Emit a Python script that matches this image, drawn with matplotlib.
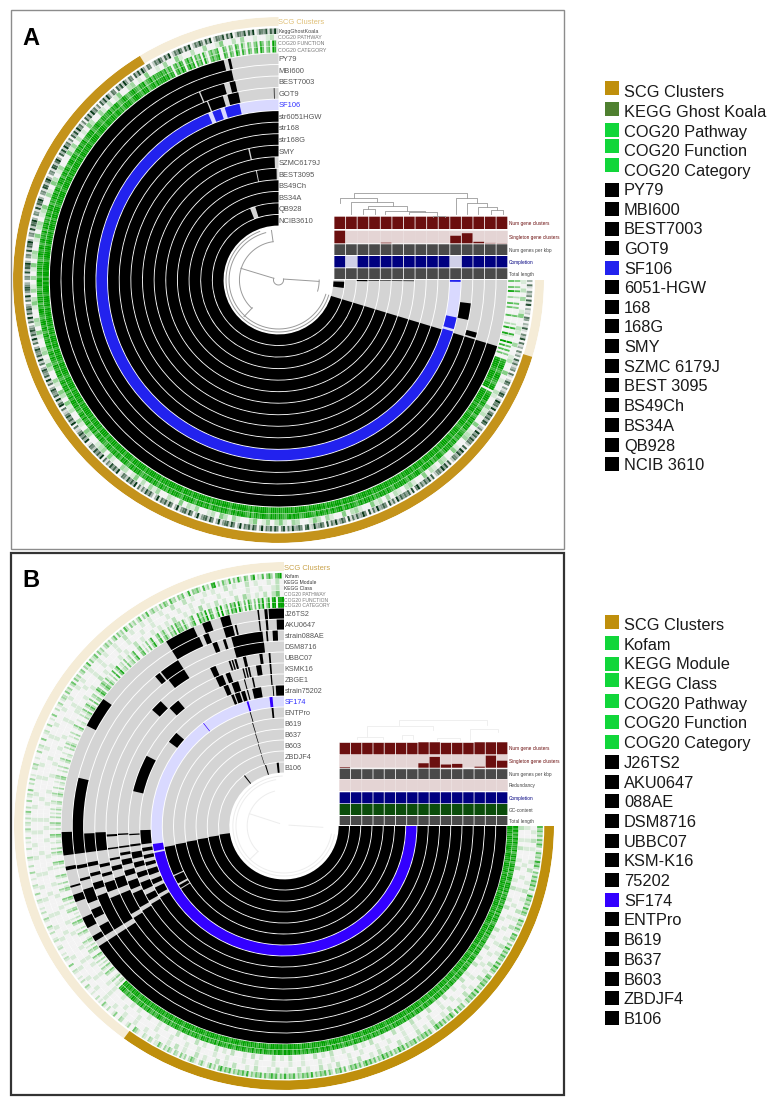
import numpy as np
import matplotlib
matplotlib.use('Agg')
import matplotlib.pyplot as plt
from matplotlib.patches import Rectangle
from matplotlib.colors import to_rgb

plt.rcParams['font.family'] = ['Liberation Sans', 'DejaVu Sans']

# PANEL A - GENOME RINGS, OUTER TO INNER
genomes_a = ['PY79', 'MBI600', 'BEST7003', 'GOT9', 'SF106', 'str6051HGW', 'str168', 'str168G', 'SMY',
             'SZMC6179J', 'BEST3095', 'BS49Ch', 'BS34A', 'QB928', 'NCIB3610']
spans_a = [
    [(107, 346.1), (347.2, 347.9)],
    [(107, 347.5)],
    [(107, 337.2), (337.6, 344.6), (346.2, 347.8), (105, 106.5)],
    [(107, 338.3), (338.7, 343.3), (344.7, 348), (97, 102), (358.6, 358.8)],
    [(102, 105.8), (106.6, 337.3), (338.7, 341.4), (342.8, 347.6), (90, 90.6)],
    [(107, 360)],
    [(107, 360)],
    [(107, 360)],
    [(107, 347.1), (347.7, 360), (90.2, 90.5)],
    [(107, 358.2), (90.2, 90.5)],
    [(107, 348.4), (348.9, 359), (90.2, 90.5)],
    [(107, 360), (90, 90.4)],
    [(107, 360), (90, 90.8)],
    [(107, 338.5), (342.5, 360)],
    [(107, 360), (91.5, 97)],
]
blue_a = 'SF106'

# PANEL A - HEATMAP RINGS, ONE LINE IS 30 DEGREES
ghost_a = ('306104250718031206403171052806130514072613506102750413860295'
           '629158473860251947385620719483562071849365207184736295081746'
           '473916280574392618059437261805742936180574392186057439261850'
           '582746193058274619305827641930582764193058276419305827461930'
           '374825160937482561093748251609374825610937485216093748521609'
           '629174583062917458306291745830629174853062917485306291478530'
           '451827693045182769304518276930541827693045187269304518726930'
           '738294615073829461507382946150738294165073829416507382941650'
           '264851739026485173902648517390265481739026548173902654817392')
pathway_a = ('102030014002100300120040100210' '031200401230014002301204001320' '120302140013204001302410023014'
             '203104200130240210031204012003' '130204102300140321002401300214' '024013002410320014023001420310'
             '301402300140230124003104201300' '041302010420031020140023010400' '103004100200300140020300100120')
function_a = ('400406002005040005000207007100905060400788997689987689907899'
              '979867989679897989678978698798897689978697989867998789679898'
              '896789798978697989798678979869987986978979678998769897986789'
              '798967898798696789897986798978897698798967989896789897968798'
              '689798978679897986798968979878986789798697986987979868798997'
              '978698979867989789678979868979879868979986789978698979867989'
              '868979889678987986897879698978698798968798979867989689798689'
              '979868979789678989678987688778968798567986578976587946795867'
              '786847605738605847063607204635700640530740620530460740350960')
category_a = ('500508003006050006000308008200907060500899998799998799908999'
              '998979899789998998789989799899989799899899979989979899897989'
              '989899899989799899898789989979998989798998989789998979899889'
              '899978999899797899998997899989989799899989979899799989998989'
              '799899989799998997899979989989989979999798998979899998979989'
              '989799989978999899789989979989997989798998998979899978999897'
              '979989999789998997998989799989799899978998999789998997989899'
              '989979989899789999789998799889879978689897689987698957896978'
              '897958706849706958074708305746800750640850730640570850460970')

gene_rows_a = ['Num gene clusters', 'Singleton gene clusters', 'Num genes per kbp', 'Completion', 'Total length']
row_colors_a = ['#6B0F0F', '#6B0F0F', '#4A4A4A', '#000080', '#4A4A4A']
row_bg_a = ['#E8DADA', '#E4D4D4', '#DDDDDD', '#D0D0E8', '#DDDDDD']
num_clusters_a = [1, 1, 1, 1, 1, 1, 1, 1, 1, 1, 1, 1, 1, 1, 1]
singletons_a = [1, 0, 0, 0, 0.05, 0, 0, 0, 0, 0, 0.6, 0.8, 0.12, 0.03, 0.02]
genes_kbp_a = [1, 1, 1, 1, 1, 1, 1, 1, 1, 1, 1, 1, 1, 1, 1]
completion_a = [1, 0, 1, 1, 1, 1, 1, 1, 1, 1, 0, 1, 1, 1, 1]
length_a = [1, 1, 1, 1, 1, 1, 1, 1, 1, 1, 1, 1, 1, 1, 1]
row_values_a = [num_clusters_a, singletons_a, genes_kbp_a, completion_a, length_a]
row_y_a = [(216.7, 229), (230.7, 243.3), (244.3, 255), (256, 267.3), (268.3, 279)]

tree_a = [(354.3, 467.3, 192.7, 198.3, 198.3), (340, 377.3, 198.3, 202.7, 202.3), (351, 393.3, 202.3, 214, 206),
          (368.3, 406.7, 206, 209, 211), (362.7, 375, 209, 214, 214), (385, 425, 211, 214, 211.7),
          (409.3, 436.7, 211.7, 214, 215), (433.3, 445, 215.7, 216.7, 216.7), (455.7, 477.3, 198.3, 214, 203.3),
          (467.3, 486.7, 203.3, 214, 206.7), (478.3, 496.7, 206.7, 214, 210), (490.7, 502.7, 210, 214, 214)]
arcs_a = [(52, 107, 339), (49, 107, 345), (38.7, 223, 352), (5, 80, 290), (40.3, 90, 106)]
spokes_a = [(39, 287.4, 5, 290), (5, 79, 40, 92), (38, 223, 50, 223), (38.7, 352, 50, 352)]

legend_a = ['SCG Clusters', 'KEGG Ghost Koala', 'COG20 Pathway', 'COG20 Function', 'COG20 Category', 'PY79',
            'MBI600', 'BEST7003', 'GOT9', 'SF106', '6051-HGW', '168', '168G', 'SMY', 'SZMC 6179J', 'BEST 3095',
            'BS49Ch', 'BS34A', 'QB928', 'NCIB 3610']
legend_y_a = [91, 111, 130.5, 150, 170, 189, 209, 228.5, 248, 267.5, 287, 307, 326, 346, 366, 385, 405, 425, 445, 464]
square_y_a = [87.5, 109, 130, 146, 165.3, 189.5, 209, 228.5, 248, 267.5, 287, 307, 326, 346, 366, 385, 405, 425, 445, 464]
square_c_a = ['#BF8F0C', '#4F8030'] + ['#11D63A'] * 3 + ['k'] * 4 + ['#2222EE'] + ['k'] * 10

# PANEL B - GENOME RINGS, OUTER TO INNER
genomes_b = ['J26TS2', 'AKU0647', 'strain088AE', 'DSM8716', 'UBBC07', 'KSMK16', 'ZBGE1', 'strain75202', 'SF174',
             'ENTPro', 'B619', 'B637', 'B603', 'ZBDJF4', 'B106']
spans_b = [
    [(90, 236.4), (238, 239.5), (242, 245), (249.5, 251.5), (253.5, 254), (258.2, 259.2), (262.2, 268.4),
     (297.5, 305.7), (328, 336), (338.4, 340.6), (343.3, 345.8), (353.1, 353.5), (354.9, 355.7), (356, 360)],
    [(90, 236.4), (238, 241), (243.5, 246), (248, 252), (254.5, 255.2), (258, 259), (262.2, 283.5), (328, 336.3),
     (337.5, 339), (343.3, 345.9), (346.5, 347), (353.1, 353.5), (355, 355.6), (358, 360)],
    [(90, 236.4), (238, 249), (251, 253), (255, 256), (258, 259.2), (262.2, 267.8), (319.9, 321.5), (322, 328),
     (339, 340.4), (342.2, 343), (344.7, 353.8), (354.8, 355.3), (356.7, 358.2)],
    [(90, 236.4), (238, 247), (249, 252), (254, 255), (257, 258), (262.2, 268), (322.3, 328), (344.6, 353.9)],
    [(90, 238), (239.5, 247), (249, 252.5), (255, 256.5), (258.5, 259.2), (262.2, 262.7), (266.5, 267.2),
     (312, 316), (335.4, 337.3), (341.8, 342.4), (342.8, 343.3), (343.7, 344.4), (346.6, 347.6), (352, 353),
     (355, 355.6)],
    [(90, 238.5), (240, 245.5), (247, 250), (252, 254), (256, 258), (259.5, 260.5), (262.2, 262.8), (266.8, 267.3),
     (316.5, 320.5), (335.7, 338.3), (339.4, 341), (345.5, 346), (346.5, 347), (347.4, 348), (350.3, 352.1),
     (355, 355.6)],
    [(90, 239), (240.5, 243), (245, 248), (250, 252), (254, 256), (257.5, 260), (262.2, 263), (266.5, 267),
     (283.3, 297.6), (337, 338.8), (340.2, 342.8), (345, 345.4), (348, 348.6), (355, 355.5)],
    [(90, 239.5), (241, 244), (245.5, 247.5), (249.5, 252), (253.5, 255), (256.5, 258), (259.5, 261), (262.5, 268.3),
     (306.8, 311.5), (338.4, 339.5), (340, 342), (342.6, 344.2), (345, 345.5), (347.2, 350.8), (355.4, 355.8),
     (356.7, 360)],
    [(90, 258), (258.8, 262), (322.4, 322.7), (343.6, 344.4), (353.7, 355)],
    [(90, 238), (238.5, 240), (241, 245), (245.6, 259.8), (343.6, 344), (354.1, 355)],
    [(90, 260.2), (343.2, 343.6)],
    [(90, 260.6), (343, 343.4)],
    [(90, 261), (342.7, 343.1)],
    [(90, 261.5), (342.5, 342.9)],
    [(90, 262.3), (322, 323), (343, 344), (353.5, 355.4)],
]
blue_b = 'SF174'

# PANEL B - HEATMAP RINGS, ONE LINE IS 30 DEGREES
kofam_b = ('635241526301524173620415263624017352416253016241520635204172'
           '526341627352046253624172635241042516037241526374015263524163'
           '425163724152637241526374152635205163402516352417263524163527'
           '251637425163524172635241635274031520142013520314023024130251'
           '102301200135003100230041002014010200100130020100120040012010'
           '021002100201300130020100120030012001003002001300020010200130'
           '120201402003012040020301002130010030120040012003001040020130'
           '132041302504130240316041250413024130250413062041302503160241'
           '204153062304250170435206130780305216041720530480216047305790')
module_b = ('010201001020010201002010200102' '010020102001020100201002010200' '102001020100201002010200102001'
            '020100201002010200102001020100' '100100100100100100100100100100' '001001001000100100100010010010'
            '010010010001001000100100100010' '010010100100101001002010010100' '100200201001010020100201001020')
class_b = ('100101000100100100010010010001' '001001000100100010010001000100' '100010010001001000100100010010'
           '001000100100010010001001000100' '010000100010000100001000010000' '000100001000010000100001000010'
           '010000100001000010000100001000' '100001000100100001001000100100' '010010010010001001000100100120')
pathway_b = ('200102001020010200102001002010' '020010200102001002010020010200' '102001002010200100201020010020'
             '102001020100201020010200102001' '010010010100100101001001010010' '001001000100100100010010001001'
             '010001001000100100010010001001' '100100100201010010100201001010' '102001010301020100203101020250')
function_b = ('979686979787968979689796879869897968797869879697986798979687'
              '797869798689796879868979687986978697989679879869798697896978'
              '897968797896879689786978968797687979689798697986978697968979'
              '689796878969786978689789678968789697869789679786978967897869'
              '786789768679786978678976867987021031002401301020140023010130'
              '001301002401000320010240001300200130001024000130200100240010'
              '130020102001200130020010230010200130010020310010200140010020'
              '140251040230164025304102060370120401302600350104027003602510'
              '315063405101360072518064017080250637082050730406280370890889')
category_b = ('998979989899879989799889798989898979899899889798999879989899'
              '989979989789989798989978998979899798989979899789989899798998'
              '989989789989798989978998979899798998978998989979899798989978'
              '798989978998979898989879989789989798998978998979899978998979'
              '989798989889798989879989798989032041002501402030250034020241'
              '002402003502010430020350003410300240001035000240300210350020'
              '240030203102300241030120340020300240120031420020300250120031'
              '250362050340275036415203070481230512403700460205038104703620'
              '426074516202470083629075028090360748093060840507390480990999')

row_colors_b = ['#6B0F0F', '#6B0F0F', '#4A4A4A', '#6B0F0F', '#000080', '#0B4D0B', '#4A4A4A']
row_bg_b = ['#E8DADA', '#E4D4D4', '#DDDDDD', '#E4D4D4', '#D0D0E8', '#CFE0CF', '#DDDDDD']
gene_rows_b = ['Num gene clusters', 'Singleton gene clusters', 'Num genes per kbp', 'Redundancy', 'Completion',
               'GC-content', 'Total length']
num_clusters_b = [0.95, 0.95, 0.95, 0.95, 0.95, 0.95, 0.95, 1, 1, 0.95, 0.95, 0.95, 1, 1, 1]
singletons_b = [0.05, 0, 0, 0, 0, 0, 0, 0.35, 0.85, 0.25, 0.3, 0, 0.08, 0.95, 0.55]
genes_kbp_b = [1, 0.95, 0.95, 0.95, 0.95, 0.95, 0.95, 1, 1, 0.95, 0.95, 0.95, 0.95, 0.95, 0.95]
redundancy_b = [0, 0, 0, 0, 0, 0, 0, 0, 0, 0, 0, 0, 0, 0, 0]
completion_b = [1, 1, 1, 1, 1, 1, 1, 1, 1, 1, 1, 1, 1, 1, 1]
gc_b = [1, 1, 1, 1, 1, 1, 1, 1, 1, 1, 1, 1, 1, 1, 1]
length_b = [1, 1, 1, 1, 1, 1, 1, 1, 1, 1, 1, 1, 1, 1, 1]
row_values_b = [num_clusters_b, singletons_b, genes_kbp_b, redundancy_b, completion_b, gc_b, length_b]
row_y_b = [(742.3, 754.3), (755, 767.7), (768.7, 779), (779.3, 791), (792.3, 803.3), (804, 815), (816, 825)]

tree_b = [(399, 486.7, 720, 725, 725), (366.7, 433.3, 725.7, 736.7, 730), (356.7, 383.3, 736.7, 739, 739),
          (401.7, 412.7, 735, 739, 739), (436.7, 460, 737.7, 740, 740), (470, 498.3, 729.3, 740, 731.7)]
arcs_b = [(50, 100, 358), (47, 100, 350), (36, 225, 345)]
spokes_b = [(36, 290, 5, 300), (5, 80, 38, 92), (36, 225, 47, 225)]

legend_b = ['SCG Clusters', 'Kofam', 'KEGG Module', 'KEGG Class', 'COG20 Pathway', 'COG20 Function', 'COG20 Category',
            'J26TS2', 'AKU0647', '088AE', 'DSM8716', 'UBBC07', 'KSM-K16', '75202', 'SF174', 'ENTPro', 'B619', 'B637',
            'B603', 'ZBDJF4', 'B106']
legend_y_b = [624, 644, 663, 682.7, 702.7, 722.3, 742, 762, 782, 801, 821, 841, 860, 880, 900, 919, 939, 959, 979,
              998, 1018]
square_y_b = [622.2, 643.3, 663.7, 680.3, 701, 721.7, 741.5, 762, 782, 801, 821, 841, 860, 880, 900, 919, 939, 959,
              979, 998, 1018]
square_c_b = ['#BF8F0C'] + ['#11D63A'] * 6 + ['k'] * 7 + ['#3300FF'] + ['k'] * 6

GREEN = '#00A000'
DARK = '#0A3A1A'
GRID_BG = '#F3F3F3'

fig = plt.figure(figsize=(7.71, 11.05), dpi=100)
W, H = 771, 1105

over = fig.add_axes([0, 0, 1, 1], zorder=5)
over.set_xlim(0, W)
over.set_ylim(H, 0)
over.axis('off')
over.patch.set_alpha(0)


def polar_panel(cx, cy, rx, ry):
    ax = fig.add_axes([(cx - rx) / W, 1 - (cy + ry) / H, 2 * rx / W, 2 * ry / H], projection='polar')
    ax.set_aspect('auto')
    ax.set_theta_zero_location('N')
    ax.set_theta_direction(-1)
    ax.set_ylim(0, ry)
    ax.axis('off')
    ax.patch.set_alpha(0)
    return ax


def ring(ax, spans, r0, r1, color, gap=0.9):
    for t0, t1 in spans:
        ax.bar(np.radians((t0 + t1) / 2), r1 - r0 - gap, width=np.radians(t1 - t0), bottom=r0 + gap / 2,
               color=color, linewidth=0)


def heat_ring(ax, digits, r0, r1, high):
    step = 270 / len(digits)
    v = np.array([int(d) for d in digits]) / 9
    lo = np.array(to_rgb(GRID_BG))
    hi = np.array(to_rgb(high))
    cols = [tuple(lo + (hi - lo) * x) for x in v]
    th = 90 + step * (np.arange(len(digits)) + 0.5)
    ax.bar(np.radians(th), r1 - r0 - 0.4, width=np.radians(step), bottom=r0, color=cols, linewidth=0)


def draw_genomes(ax, names, spans, r_out, step, special, ring_blue):
    for i, name in enumerate(names):
        r1 = r_out - i * step
        r0 = r1 - step
        if name == special:
            ring(ax, [(90, 360)], r0, r1, '#D9D9FF')
            ring(ax, spans[i], r0, r1, ring_blue)
        else:
            ring(ax, [(90, 360)], r0, r1, '#D4D4D4')
            ring(ax, spans[i], r0, r1, 'black')


def draw_layers(values, rows, colors, bgs, x0, cw, labels, label_x):
    for vals, (y0, y1), c, bg, lab in zip(values, rows, colors, bgs, labels):
        xs = x0 + cw * (np.arange(len(vals)) + 0.5)
        h = y1 - y0
        over.bar(xs, -h, bottom=y1, width=cw, color=bg, linewidth=0, snap=False)
        over.bar(xs, [-v * h for v in vals], bottom=y1, width=cw - 0.9, color=c, linewidth=0, snap=False)
        tc = '#000080' if lab == 'Completion' else ('#6B0F0F' if 'gene clusters' in lab else '#444444')
        over.text(label_x, (y0 + y1) / 2 + 0.5, lab, fontsize=3.4, color=tc, va='center', ha='left')


def draw_tree(ax, arcs, spokes, brackets, color):
    for r, t0, t1 in arcs:
        th = np.radians(np.arange(t0, t1 + 1, 1.0))
        ax.plot(th, np.full(len(th), r), color=color, lw=0.7)
    for r0, t0, r1, t1 in spokes:
        ax.plot(np.radians([t0, t1]), [r0, r1], color=color, lw=0.7)
    for x0, x1, y, yl, yr in brackets:
        over.plot([x0, x0, x1, x1], [yl, y, y, yr], color=color, lw=0.6)


# PANEL A
cx_a, cy_a = 278.5, 280
over.add_patch(Rectangle((11, 10), 553, 538.5, fill=False, edgecolor='#8C8C8C', lw=1.0))
ax_a = polar_panel(cx_a, cy_a, 265.5, 263)
ring(ax_a, [(90, 107), (328.5, 360)], 254, 263, '#F5ECD7', gap=0)
ring(ax_a, [(107, 328.5)], 253.5, 263, '#C4931B', gap=0)
heat_ring(ax_a, ghost_a, 246, 252, DARK)
heat_ring(ax_a, pathway_a, 240, 246, GREEN)
heat_ring(ax_a, function_a, 234, 240, GREEN)
heat_ring(ax_a, category_a, 227.5, 234, GREEN)
draw_genomes(ax_a, genomes_a, spans_a, 227, (227 - 54) / 15, blue_a, '#2222EE')
draw_tree(ax_a, arcs_a, spokes_a, tree_a, '#9A9A9A')
ax_a.set_ylim(0, 263)
draw_layers(row_values_a, row_y_a, row_colors_a, row_bg_a, 334, 11.58, gene_rows_a, 509)

step_a = (227 - 54) / 15
for i, name in enumerate(genomes_a):
    y = cy_a - (227 - (i + 0.5) * step_a)
    over.text(278.5, y, name, fontsize=5.4, va='center_baseline', ha='left',
              color='#3333FF' if name == blue_a else '#555555')
over.text(278.5, 21.5, 'SCG Clusters', fontsize=5.4, va='center_baseline', ha='left', color='#E0C078')
for y, lab, c in zip([30.5, 37, 43, 49.5], ['KeggGhostKoala', 'COG20 PATHWAY', 'COG20 FUNCTION', 'COG20 CATEGORY'],
                     ['#444444', '#777777', '#777777', '#777777']):
    over.text(278.5, y, lab, fontsize=3.8, va='center_baseline', ha='left', color=c)
over.text(22, 36, 'A', fontsize=17, fontweight='bold', va='center_baseline', ha='left', color='black')

# PANEL B
cx_b, cy_b = 284, 826
over.add_patch(Rectangle((11, 553), 553, 542, fill=False, edgecolor='#333333', lw=1.6))
ax_b = polar_panel(cx_b, cy_b, 270, 264)
ring(ax_b, [(216.4, 360)], 255, 264, '#F5ECD7', gap=0)
ring(ax_b, [(90, 216.4)], 254.5, 264, '#BF8F0C', gap=0)
heat_ring(ax_b, kofam_b, 247.5, 253.5, GREEN)
heat_ring(ax_b, module_b, 241.5, 247.5, GREEN)
heat_ring(ax_b, class_b, 235.5, 241.5, GREEN)
heat_ring(ax_b, pathway_b, 229.5, 235.5, GREEN)
heat_ring(ax_b, function_b, 224, 229.5, GREEN)
heat_ring(ax_b, category_b, 218.2, 224, GREEN)
draw_genomes(ax_b, genomes_b, spans_b, 218, 11, blue_b, '#3300FF')
draw_tree(ax_b, arcs_b, spokes_b, tree_b, '#EDEDED')
ax_b.set_ylim(0, 264)
draw_layers(row_values_b, row_y_b, row_colors_b, row_bg_b, 339.3, 11.23, gene_rows_b, 509)

for i, name in enumerate(genomes_b):
    y = cy_b - (218 - (i + 0.5) * 11)
    over.text(284.5, y, name, fontsize=5.2, va='center_baseline', ha='left',
              color='#3333FF' if name == blue_b else '#555555')
over.text(284.5, 567.5, 'SCG Clusters', fontsize=5.4, va='center_baseline', ha='left', color='#C9A24A')
for y, lab, c in zip([575.5, 581.5, 588, 593.5, 599.5, 605],
                     ['Kofam', 'KEGG Module', 'KEGG Class', 'COG20 PATHWAY', 'COG20 FUNCTION', 'COG20 CATEGORY'],
                     ['#333333', '#333333', '#333333', '#777777', '#777777', '#777777']):
    over.text(284.5, y, lab, fontsize=3.6, va='center_baseline', ha='left', color=c)
over.text(22, 578, 'B', fontsize=17, fontweight='bold', va='center_baseline', ha='left', color='black')

# LEGENDS
for labels, ys, sqs, cols in [(legend_a, legend_y_a, square_y_a, square_c_a), (legend_b, legend_y_b, square_y_b, square_c_b)]:
    for lab, y, sy, c in zip(labels, ys, sqs, cols):
        over.add_patch(Rectangle((605, sy - 7), 14.2, 14, facecolor=c, edgecolor='none'))
        over.text(624, y, lab, fontsize=11.8, va='center_baseline', ha='left', color='#1A1A1A')

fig.savefig('out.png', dpi=100)
